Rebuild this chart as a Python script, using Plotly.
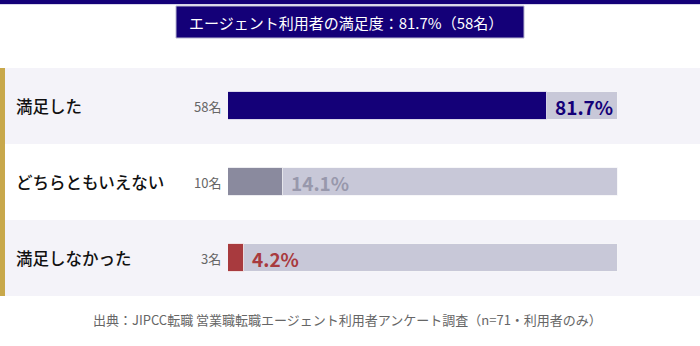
import plotly.graph_objects as go

categories = ["満足した", "どちらともいえない", "満足しなかった"]
percents = [81.7, 14.1, 4.2]
counts = ["58名", "10名", "3名"]
pct_labels = ["81.7%", "14.1%", "4.2%"]
bar_colors = ["#140078", "#8a8a9e", "#a83a3e"]
label_colors = ["#140078", "#9898ac", "#a83a3e"]
row_bg = ["#f4f3f9", "#ffffff", "#f4f3f9"]
track_max = 100
title_text = "エージェント利用者の満足度：81.7%（58名）"
source_text = "出典：JIPCC転職 営業職転職エージェント利用者アンケート調査（n=71・利用者のみ）"

W, H = 700, 346
FONT = "Noto Sans CJK JP"

def py(px):
    return 1 - px / H

fig = go.Figure()

# track bars
fig.add_trace(go.Bar(
    y=categories, x=[track_max] * len(categories), orientation="h",
    marker=dict(color="#c8c8d8", line=dict(color="rgba(255,255,255,0.7)", width=1)),
    width=0.38, hoverinfo="skip", showlegend=False,
))
# value bars
fig.add_trace(go.Bar(
    y=categories, x=percents, orientation="h",
    marker=dict(color=bar_colors, line=dict(color="rgba(255,255,255,0.7)", width=1)),
    width=0.38, showlegend=False,
))

shapes = []
# row backgrounds
for i, c in enumerate(categories):
    shapes.append(dict(type="rect", xref="paper", yref="y", x0=5 / W, x1=1,
                       y0=i - 0.5, y1=i + 0.5, fillcolor=row_bg[i],
                       line=dict(width=0), layer="below"))
# gold left accent
shapes.append(dict(type="rect", xref="paper", yref="y", x0=0, x1=5 / W,
                   y0=-0.5, y1=len(categories) - 0.5, fillcolor="#c8a84b",
                   line=dict(width=0), layer="below"))
# top band
shapes.append(dict(type="rect", xref="paper", yref="paper", x0=0, x1=1,
                   y0=py(4), y1=1, fillcolor="#140078", line=dict(width=0)))
shapes.append(dict(type="rect", xref="paper", yref="paper", x0=0, x1=1,
                   y0=py(5), y1=py(4), fillcolor="#d8d6ea", line=dict(width=0)))
# title box
shapes.append(dict(type="rect", xref="paper", yref="paper", x0=176 / W, x1=524 / W,
                   y0=py(38), y1=py(6), fillcolor="#140078",
                   line=dict(color="#b8b6d0", width=1)))

annotations = []
annotations.append(dict(xref="paper", yref="paper", x=346 / W, y=py(22),
                        text=title_text, showarrow=False, xanchor="center", yanchor="middle",
                        font=dict(family=FONT, size=15, color="white")))
for i, c in enumerate(categories):
    annotations.append(dict(xref="paper", yref="y", x=14 / W, y=c, text=c,
                            showarrow=False, xanchor="left", yanchor="middle",
                            font=dict(family=FONT, size=16.5, color="#111111", weight=500)))
    annotations.append(dict(xref="x", yref="y", x=0, y=c, text=counts[i],
                            showarrow=False, xanchor="right", yanchor="middle", xshift=-5,
                            font=dict(family=FONT, size=13, color="#666666")))
    annotations.append(dict(xref="x", yref="y", x=percents[i], y=c, text="<b>" + pct_labels[i] + "</b>",
                            showarrow=False, xanchor="left", yanchor="middle", xshift=6,
                            font=dict(family=FONT, size=19, color=label_colors[i])))
annotations.append(dict(xref="paper", yref="paper", x=347 / W, y=py(319), text=source_text,
                        showarrow=False, xanchor="center", yanchor="middle",
                        font=dict(family=FONT, size=13, color="#666666")))

fig.update_layout(
    width=W, height=H, margin=dict(l=0, r=0, t=0, b=0),
    paper_bgcolor="white", plot_bgcolor="rgba(0,0,0,0)",
    barmode="overlay", bargap=0,
    xaxis=dict(domain=[228 / W, 618 / W], range=[0, track_max], visible=False, fixedrange=True),
    yaxis=dict(domain=[py(296), py(68)], range=[len(categories) - 0.5, -0.5],
               categoryorder="array", categoryarray=categories, visible=False, fixedrange=True),
    shapes=shapes, annotations=annotations,
    font=dict(family=FONT),
)

fig.write_html("out.html", config={"displayModeBar": False})
